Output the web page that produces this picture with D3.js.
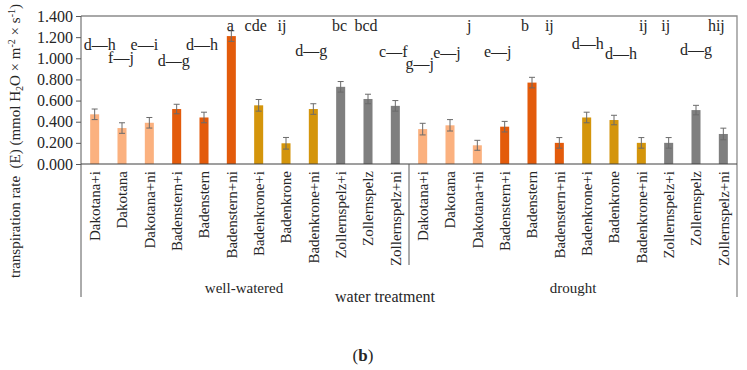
<!DOCTYPE html>
<html>
<head>
<meta charset="utf-8">
<script src="https://cdn.jsdelivr.net/npm/d3@7"></script>
<style>
  body { margin: 0; background: #fff; }
  text { font-family: "Liberation Serif", "Times New Roman", serif; fill: #262626; }
</style>
</head>
<body>
<div id="chart"></div>
<script>
// data
var groups = ["well-watered", "drought"];
var cultivars = ["Dakotana+i", "Dakotana", "Dakotana+ni",
    "Badenstern+i", "Badenstern", "Badenstern+ni",
    "Badenkrone+i", "Badenkrone", "Badenkrone+ni",
    "Zollernspelz+i", "Zollernspelz", "Zollernspelz+ni"];

var wellWatered = [0.47, 0.34, 0.39, 0.52, 0.44, 1.21, 0.555, 0.196, 0.52, 0.73, 0.615, 0.55];
var wellWateredErr = [0.05, 0.05, 0.05, 0.045, 0.05, 0.05, 0.055, 0.055, 0.05, 0.05, 0.045, 0.05];
var drought = [0.33, 0.366, 0.177, 0.353, 0.77, 0.20, 0.44, 0.416, 0.20, 0.20, 0.51, 0.284];
var droughtErr = [0.055, 0.054, 0.047, 0.05, 0.05, 0.05, 0.05, 0.045, 0.05, 0.05, 0.045, 0.055];

// "-" in these stands for the range dash between letters
var wellWateredLetters = ["d-h", "f-j", "e-i", "d-g", "d-h", "a",
    "cde", "ij", "d-g", "bc", "bcd", "c-f"];
var droughtLetters = ["g-j", "e-j", "j", "e-j", "b", "ij",
    "d-h", "d-h", "ij", "ij", "d-g", "hij"];

var yTicks = [0, 0.2, 0.4, 0.6, 0.8, 1.0, 1.2, 1.4];

// colour per cultivar (3 treatments each)
var colors = ["#fbb17f", "#e35b0b", "#d4950b", "#7f7f7f"];

// placement of the significance letters (layout only): [dx, y]
var letterPos = [[5, 44], [-1, 57], [-5, 44], [-3, 60], [-2, 44], [-1, 25],
    [-3, 25], [-4, 25], [-2, 50], [-1, 25], [-2, 25], [-2, 51],
    [-3, 63], [-3, 52], [-8, 25], [-7, 51], [-7, 25], [-10, 25],
    [1, 43], [7, 53], [2, 25], [-3, 25], [0, 49], [-7, 25]];

var svgWidth = 747;
var svgHeight = 370;
var plot = { left: 81, right: 737, top: 16, bottom: 164, foot: 297 };

var svg = d3.select("#chart")
    .append("svg")
    .attr("width", svgWidth)
    .attr("height", svgHeight);

// build rows
var rows = [];
groups.forEach(function (g, gi) {
    var vals = gi === 0 ? wellWatered : drought;
    var errs = gi === 0 ? wellWateredErr : droughtErr;
    var lets = gi === 0 ? wellWateredLetters : droughtLetters;
    cultivars.forEach(function (c, ci) {
        rows.push({
            key: g + "|" + c, group: g, cat: c,
            value: vals[ci], err: errs[ci], letter: lets[ci],
            color: colors[Math.floor(ci / 3)]
        });
    });
});

var x = d3.scaleBand()
    .domain(rows.map(d => d.key))
    .range([plot.left, plot.right])
    .paddingInner(0.67)
    .paddingOuter(0.335);

var y = d3.scaleLinear()
    .domain([0, 1.4])
    .range([plot.bottom, plot.top]);

// frame: top + right border
svg.append("path")
    .attr("d", `M${plot.left},${plot.top}H${plot.right}V${plot.foot}`)
    .attr("fill", "none")
    .attr("stroke", "#8c8c8c")
    .attr("stroke-width", 1.3);

// bars
svg.selectAll("rect.bar")
    .data(rows)
    .enter()
    .append("rect")
    .attr("class", "bar")
    .attr("x", d => x(d.key))
    .attr("y", d => y(d.value))
    .attr("width", x.bandwidth())
    .attr("height", d => y(0) - y(d.value))
    .attr("fill", d => d.color);

// error bars
var eb = svg.selectAll("g.err")
    .data(rows)
    .enter()
    .append("g")
    .attr("class", "err")
    .attr("stroke", "#6b6b6b")
    .attr("stroke-width", 1);

eb.append("line")
    .attr("x1", d => x(d.key) + x.bandwidth() / 2)
    .attr("x2", d => x(d.key) + x.bandwidth() / 2)
    .attr("y1", d => y(d.value + d.err))
    .attr("y2", d => y(d.value - d.err));
eb.append("line")
    .attr("x1", d => x(d.key) + x.bandwidth() / 2 - 3)
    .attr("x2", d => x(d.key) + x.bandwidth() / 2 + 3)
    .attr("y1", d => y(d.value + d.err))
    .attr("y2", d => y(d.value + d.err));
eb.append("line")
    .attr("x1", d => x(d.key) + x.bandwidth() / 2 - 3)
    .attr("x2", d => x(d.key) + x.bandwidth() / 2 + 3)
    .attr("y1", d => y(d.value - d.err))
    .attr("y2", d => y(d.value - d.err));

// significance letters
svg.selectAll("text.letter")
    .data(rows)
    .enter()
    .append("text")
    .attr("class", "letter")
    .attr("x", (d, i) => x(d.key) + x.bandwidth() / 2 + letterPos[i][0])
    .attr("y", (d, i) => letterPos[i][1])
    .attr("dy", "0.35em")
    .attr("text-anchor", "middle")
    .style("font-size", "16px")
    .text(d => d.letter.replace("-", "\u2014"));

// y axis
var leftAxis = d3.axisLeft(y)
    .tickValues(yTicks)
    .tickFormat(d3.format(".3f"))
    .tickSize(5)
    .tickPadding(3);

var yAxis = svg.append("g")
    .attr("transform", `translate(${plot.left},0)`)
    .call(leftAxis);
yAxis.select(".domain").remove();
yAxis.selectAll("line").attr("stroke", "#595959");
yAxis.selectAll("text")
    .style("font-size", "16px")
    .style("font-family", "Liberation Serif, serif")
    .attr("fill", "#262626");

svg.append("line")
    .attr("x1", plot.left).attr("x2", plot.left)
    .attr("y1", plot.top).attr("y2", plot.foot)
    .attr("stroke", "#595959");

// x axis line
svg.append("line")
    .attr("x1", plot.left).attr("x2", plot.right)
    .attr("y1", y(0)).attr("y2", y(0))
    .attr("stroke", "#404040")
    .attr("stroke-width", 1.2);

// divider between treatments
var divX = x(rows[12].key) - (x.step() - x.bandwidth()) / 2;
svg.append("line")
    .attr("x1", divX).attr("x2", divX)
    .attr("y1", y(0)).attr("y2", 265)
    .attr("stroke", "#595959");

// category labels
svg.selectAll("text.cat")
    .data(rows)
    .enter()
    .append("text")
    .attr("class", "cat")
    .attr("transform", d => `translate(${x(d.key) + x.bandwidth() / 2}, 171) rotate(-90)`)
    .attr("dy", "0.35em")
    .attr("text-anchor", "end")
    .style("font-size", "15px")
    .text(d => d.cat);

// group labels
groups.forEach(function (g, gi) {
    var first = x(rows[gi * 12].key);
    var last = x(rows[gi * 12 + 11].key) + x.bandwidth();
    svg.append("text")
        .attr("x", (first + last) / 2 + (gi === 0 ? -1 : 0))
        .attr("y", 288)
        .attr("dy", "0.35em")
        .attr("text-anchor", "middle")
        .style("font-size", "15px")
        .text(g);
});

svg.append("text")
    .attr("x", 385)
    .attr("y", 296)
    .attr("dy", "0.35em")
    .attr("text-anchor", "middle")
    .style("font-size", "16px")
    .text("water treatment");

// y axis title
var yt = svg.append("text")
    .attr("transform", "translate(15, 141) rotate(-90)")
    .attr("dy", "0.35em")
    .attr("text-anchor", "middle")
    .style("font-size", "15px");
yt.append("tspan").text("transpiration rate\u00a0 (E) (mmol H");
yt.append("tspan").attr("dy", "3").style("font-size", "10px").text("2");
yt.append("tspan").attr("dy", "-3").text("O \u00d7 m");
yt.append("tspan").attr("dy", "-5").style("font-size", "10px").text("-2");
yt.append("tspan").attr("dy", "5").text(" \u00d7 s");
yt.append("tspan").attr("dy", "-5").style("font-size", "10px").text("-1");
yt.append("tspan").attr("dy", "5").text(")");

// panel tag
var tag = svg.append("text")
    .attr("x", 363)
    .attr("y", 355)
    .attr("dy", "0.35em")
    .attr("text-anchor", "middle")
    .style("font-size", "17px");
tag.append("tspan").text("(");
tag.append("tspan").style("font-weight", "bold").text("b");
tag.append("tspan").text(")");
</script>
</body>
</html>
